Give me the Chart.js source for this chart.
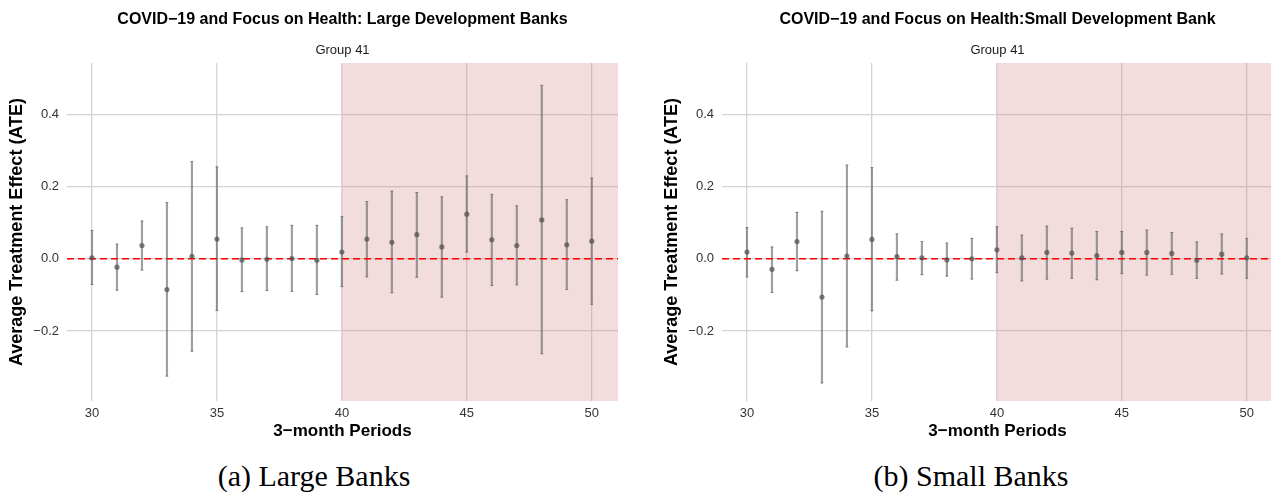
<!DOCTYPE html>
<html>
<head>
<meta charset="utf-8">
<script src="https://cdn.jsdelivr.net/npm/chart.js@4.4.1/dist/chart.umd.min.js"></script>
<style>
  html, body { margin: 0; padding: 0; background: #fff; overflow: hidden; }
  #figure { position: relative; width: 1271px; height: 494px; overflow: hidden; background: #fff; }
  .panel { position: absolute; top: 0; width: 640px; height: 442px; }
  .panel canvas { display: block; }
  .caption {
    position: absolute; top: 461px; transform: translateX(-50%);
    font-family: "Liberation Serif", "Times New Roman", serif;
    font-size: 30px; line-height: 30px; white-space: nowrap; color: #000;
  }
</style>
</head>
<body>
<div id="figure">
  <div class="panel" style="left:0px"><canvas id="largeBanks" width="640" height="442"></canvas></div>
  <div class="panel" style="left:655px"><canvas id="smallBanks" width="640" height="442"></canvas></div>
  <div class="caption" style="left:314px">(a) Large Banks</div>
  <div class="caption" style="left:971px">(b) Small Banks</div>
</div>
<script>
// Event-study estimates by 3-month period, with 95% confidence bounds
const periods = [30, 31, 32, 33, 34, 35, 36, 37, 38, 39, 40, 41, 42, 43, 44, 45, 46, 47, 48, 49, 50];

const largeEstimate = [0.003, -0.023, 0.037, -0.085, 0.007, 0.055, -0.003, -0.001, 0.001, -0.004, 0.019,
                       0.055, 0.046, 0.067, 0.033, 0.124, 0.053, 0.037, 0.108, 0.039, 0.049];
const largeLower    = [-0.071, -0.087, -0.031, -0.325, -0.256, -0.143, -0.091, -0.088, -0.090, -0.099, -0.077,
                       -0.050, -0.094, -0.051, -0.106, 0.019, -0.074, -0.072, -0.263, -0.085, -0.126];
const largeUpper    = [0.079, 0.041, 0.105, 0.156, 0.270, 0.255, 0.086, 0.089, 0.093, 0.093, 0.117,
                       0.159, 0.188, 0.184, 0.172, 0.230, 0.179, 0.147, 0.481, 0.164, 0.224];

const smallEstimate = [0.019, -0.029, 0.048, -0.106, 0.008, 0.054, 0.006, 0.003, -0.003, 0.000, 0.025,
                       0.003, 0.018, 0.016, 0.009, 0.018, 0.018, 0.015, -0.004, 0.013, 0.003];
const smallLower    = [-0.050, -0.093, -0.033, -0.344, -0.244, -0.144, -0.059, -0.044, -0.048, -0.056, -0.038,
                       -0.061, -0.056, -0.054, -0.058, -0.041, -0.045, -0.043, -0.054, -0.042, -0.054];
const smallUpper    = [0.087, 0.033, 0.129, 0.132, 0.260, 0.253, 0.069, 0.048, 0.044, 0.057, 0.089,
                       0.066, 0.091, 0.085, 0.076, 0.076, 0.080, 0.073, 0.047, 0.069, 0.057];

const periodTicks = [30, 35, 40, 45, 50];
const ateTicks = [-0.2, 0.0, 0.2, 0.4];
const treatmentStart = 40;

// axis ranges
const xMin = 29, xMax = 51.05;
const yMin = -0.394, yMax = 0.543;

Chart.defaults.font.family = '"Liberation Sans", Arial, Helvetica, sans-serif';

// Draws the main heading and the group label centred over the plotting area
const panelHeading = {
  id: 'panelHeading',
  afterDraw(chart, args, opts) {
    const { ctx, chartArea } = chart;
    const cx = (chartArea.left + chartArea.right) / 2;
    ctx.save();
    ctx.textAlign = 'center';
    ctx.textBaseline = 'middle';
    ctx.fillStyle = '#000';
    ctx.font = 'bold 16px "Liberation Sans", Arial, sans-serif';
    ctx.fillText(opts.title, cx, 20);
    ctx.fillStyle = '#1a1a1a';
    ctx.font = '13px "Liberation Sans", Arial, sans-serif';
    ctx.fillText(opts.subtitle, cx, 50);
    ctx.restore();
  }
};

function fmtAte(v) {
  if (Math.abs(v) < 1e-9) return '0.0';
  return (v < 0 ? '\u2212' : '') + Math.abs(v).toFixed(1);
}

function buildPanel(canvasId, title, estimate, lower, upper) {
  const stems = periods.map((p, i) => ({ x: p, y: [lower[i], upper[i]] }));
  const ends = periods.flatMap((p, i) => [{ x: p, y: lower[i] }, { x: p, y: upper[i] }]);
  const points = periods.map((p, i) => ({ x: p, y: estimate[i] }));

  return new Chart(document.getElementById(canvasId), {
    type: 'line',
    data: {
      datasets: [
        {
          type: 'line', label: 'Post-COVID periods',
          data: [{ x: treatmentStart, y: yMax }, { x: xMax, y: yMax }],
          fill: 'start', backgroundColor: 'rgba(205,110,110,0.24)',
          borderWidth: 0, pointRadius: 0, order: 6
        },
        {
          type: 'bar', label: '95% CI', data: stems,
          backgroundColor: 'rgba(95,95,95,0.6)', borderWidth: 0,
          barThickness: 1.5, order: 4
        },
        {
          type: 'line', label: 'CI bounds', data: ends, showLine: false,
          pointStyle: 'line', pointRadius: 1.5, pointBorderWidth: 1,
          pointBorderColor: 'rgba(95,95,95,0.6)', borderColor: 'rgba(95,95,95,0.6)',
          order: 3
        },
        {
          type: 'line', label: 'Zero effect',
          data: [{ x: xMin, y: 0 }, { x: xMax, y: 0 }],
          borderColor: '#ff0000', borderWidth: 1.5, borderDash: [7, 4],
          pointRadius: 0, order: 2
        },
        {
          type: 'line', label: 'ATE', data: points, showLine: false,
          pointRadius: 2.6, pointBorderWidth: 0,
          pointBackgroundColor: 'rgba(80,80,80,0.72)', order: 1
        }
      ]
    },
    options: {
      responsive: false,
      animation: false,
      events: [],
      layout: { padding: { top: 63, right: 22, bottom: 0, left: 0 } },
      scales: {
        x: {
          type: 'linear', min: xMin, max: xMax, offset: false,
          afterBuildTicks: s => { s.ticks = periodTicks.map(v => ({ value: v })); },
          afterFit: s => { s.height = 41; },
          border: { display: false },
          grid: { color: '#d4d4d4', lineWidth: 1.3, drawTicks: false, offset: false },
          ticks: { padding: 5, color: '#333', font: { size: 13 }, maxRotation: 0, autoSkip: false,
                   callback: v => String(v) },
          title: { display: true, text: '3\u2212month Periods', color: '#000',
                   font: { size: 17, weight: 'bold' }, padding: { top: 0, bottom: 0 } }
        },
        y: {
          type: 'linear', min: yMin, max: yMax,
          afterBuildTicks: s => { s.ticks = ateTicks.map(v => ({ value: v })); },
          afterFit: s => { s.width = 67; },
          border: { display: false },
          grid: { color: '#d4d4d4', lineWidth: 1.3, drawTicks: false },
          ticks: { padding: 8, color: '#333', font: { size: 13 }, callback: v => fmtAte(v) },
          title: { display: true, text: 'Average Treatment Effect (ATE)', color: '#000',
                   font: { size: 18, weight: 'bold' }, padding: { top: 6.7, bottom: 0 } }
        }
      },
      plugins: {
        legend: { display: false },
        tooltip: { enabled: false },
        panelHeading: { title: title, subtitle: 'Group 41' }
      }
    },
    plugins: [panelHeading]
  });
}

buildPanel('largeBanks', 'COVID\u221219 and Focus on Health: Large Development Banks',
           largeEstimate, largeLower, largeUpper);
buildPanel('smallBanks', 'COVID\u221219 and Focus on Health:Small Development Bank',
           smallEstimate, smallLower, smallUpper);
</script>
</body>
</html>
